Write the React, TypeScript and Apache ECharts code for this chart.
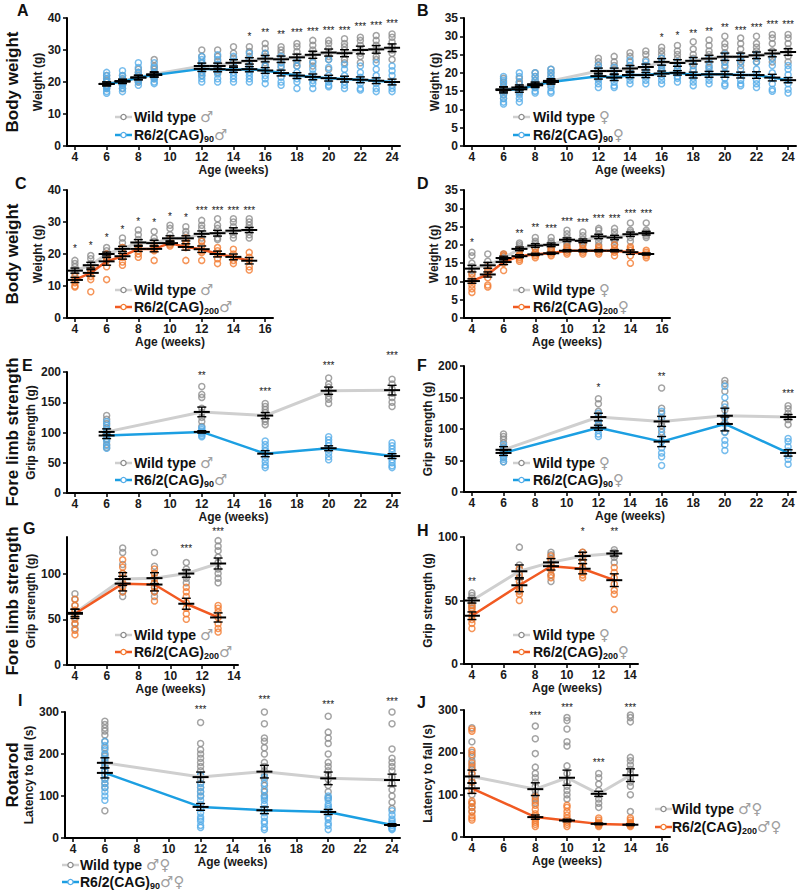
import React, { useEffect, useRef } from 'react';
import * as echarts from 'echarts';

// ---------- tick values ----------
const xTicks24 = [4, 6, 8, 10, 12, 14, 16, 18, 20, 22, 24];
const xTicks16 = [4, 6, 8, 10, 12, 14, 16];
const xTicks14 = [4, 6, 8, 10, 12, 14];
const yTicks40 = [0, 10, 20, 30, 40];
const yTicks35 = [0, 5, 10, 15, 20, 25, 30, 35];
const yTicks200 = [0, 50, 100, 150, 200];
const yTicks100 = [0, 50, 100];
const yTicks300 = [0, 100, 200, 300];

// ---------- Panel A: body weight, male, CAG90 ----------
const weeksA = [6, 7, 8, 9, 12, 13, 14, 15, 16, 17, 18, 19, 20, 21, 22, 23, 24];
const wtPtsA = [
  [22, 21, 20.5, 20, 19, 18.5, 18], [22, 21, 20.5, 20, 19.5, 19, 18], [24, 23, 22, 21.5, 21, 20.5, 20],
  [27, 25, 24, 23, 22, 21.5, 21], [30, 28, 26, 25, 24.5, 24, 23, 22], [30, 28, 26.5, 25.5, 25, 24, 23],
  [31, 29, 27.5, 26.5, 26, 25, 24], [31, 29.5, 28, 27, 26, 25, 24], [32, 30.5, 29, 28, 27, 26, 25],
  [31, 30, 29, 27.5, 27, 26, 25], [32, 31, 29.5, 28, 27, 26, 25], [33, 31.5, 30, 29, 28, 26.5, 25],
  [33, 32, 30.5, 29, 28, 27, 24], [33.5, 32, 31, 30, 29, 27, 26], [34, 33, 31.5, 30, 29, 28, 26],
  [34.5, 33, 31.5, 30.5, 29.5, 28, 27], [35, 34, 32.5, 31, 30, 29, 27],
];
const mutPtsA = [
  [23, 22, 21, 20, 19, 18.5, 18, 17, 16.5], [23.5, 22, 21, 20, 19.5, 19, 18, 17], [26, 24.5, 23, 22, 21, 20, 19],
  [26, 24.5, 23, 22, 21, 20, 19.5], [28, 27, 26, 25, 24, 23, 22, 21, 20], [28.5, 27, 25.5, 24.5, 23.5, 22.5, 21, 20],
  [28, 26.5, 25, 24, 23, 22, 21, 20], [29, 27, 25, 24, 23, 22, 21, 20], [29, 27, 25, 23.5, 22, 21, 19.5],
  [28, 26, 24.5, 23, 21.5, 20, 19], [27, 25, 23, 22, 21, 20, 18], [26, 24, 22.5, 21.5, 20.5, 19.5, 18],
  [27, 24.5, 22, 21, 20, 19, 18.5], [25.5, 24, 22, 21, 20, 19, 18], [25, 23, 21.5, 20.5, 19.5, 18, 17.5],
  [26, 24, 22, 20.5, 19.5, 18, 17], [25, 23.5, 22, 20, 19, 18, 17],
];
const wtMeanA = [19.4, 20.3, 21.4, 22.4, 25.0, 25.0, 26.0, 26.6, 27.3, 27.1, 27.7, 28.5, 29.2, 29.0, 30.0, 30.2, 30.7];
const wtSemA = [0.6, 0.6, 0.7, 0.8, 0.9, 0.9, 1.0, 1.0, 1.0, 1.0, 1.0, 1.1, 1.1, 1.1, 1.2, 1.2, 1.2];
const mutMeanA = [19.4, 20.1, 21.4, 22.2, 24.1, 24.0, 23.8, 24.0, 23.6, 22.8, 22.0, 21.6, 21.2, 20.9, 20.7, 20.4, 20.0];
const mutSemA = [0.6, 0.6, 0.7, 0.7, 0.8, 0.8, 0.8, 0.8, 0.9, 0.9, 0.9, 0.9, 0.9, 0.9, 0.9, 0.9, 0.9];
const starWeeksA = [15, 16, 17, 18, 19, 20, 21, 22, 23, 24];
const starTextA = ['*', '**', '**', '***', '***', '***', '***', '***', '***', '***'];
const starYA = [34.3, 35.4, 34.8, 35.4, 35.9, 36.2, 36.2, 37.2, 37.6, 38.2];

// ---------- Panel B: body weight, female, CAG90 ----------
const weeksB = [6, 7, 8, 9, 12, 13, 14, 15, 16, 17, 18, 19, 20, 21, 22, 23, 24];
const wtPtsB = [
  [18.5, 17.5, 16.5, 15.5, 15, 14, 13], [18.5, 17.5, 17, 16, 15, 14.5], [20, 19, 18, 17, 16.5, 16],
  [21, 20, 19, 18, 17.5, 16.5], [24, 23, 22, 21, 20, 19.5, 18.5], [24.5, 23, 22, 21, 20, 19],
  [25.5, 24.5, 23, 22, 21, 20, 19], [26, 25, 23.5, 22, 21, 20], [27, 26, 25, 24, 23, 22, 21],
  [27.5, 26, 25, 24, 23, 22, 21], [28.5, 26.5, 25, 24, 23, 22, 21], [29, 27.5, 26, 25, 24, 23, 21.5],
  [30, 28, 27, 25.5, 24, 23, 22], [29.5, 28, 26.5, 25, 24, 23, 22], [30, 28, 27, 26, 25, 24, 23],
  [30.5, 29.5, 28, 26, 25, 24, 23], [30.5, 29.5, 28, 26.5, 25.5, 24.5, 23],
];
const mutPtsB = [
  [19, 18, 17, 16, 15, 14, 13, 12, 11.5], [20, 19, 17.5, 16, 15, 14, 13, 12], [20, 19, 18, 17, 16, 15, 14.5],
  [21, 20, 19, 18, 17, 16, 15, 14.5], [22, 21, 20, 19, 18, 17, 16], [21.5, 20.5, 19.5, 18.5, 17.5, 16.5, 16],
  [23.5, 22, 21, 20, 19, 18, 17], [23, 22, 21, 20, 19, 18, 17], [24, 22.5, 21.5, 20.5, 19, 18, 17],
  [23, 22, 21, 20, 19, 18.5, 17.5], [23.5, 22, 20.5, 19.5, 18.5, 17.5, 16.5], [24, 22, 21, 20, 19, 18, 17],
  [25, 23, 21.5, 20, 18.5, 17, 16.5], [24.5, 23, 21, 19.5, 18, 17, 16.5], [25, 23, 21, 19.5, 18, 17, 16],
  [24, 22, 20, 18.5, 17, 15.5, 15], [22, 21, 19.5, 18, 17, 15.5, 14.5],
];
const wtMeanB = [15.5, 16.0, 16.9, 17.8, 20.5, 20.5, 21.2, 21.6, 23.0, 22.7, 23.3, 23.9, 24.4, 24.4, 24.8, 25.3, 25.7];
const wtSemB = [0.7, 0.7, 0.6, 0.6, 0.8, 0.8, 0.8, 0.8, 0.9, 0.9, 0.9, 0.9, 1.0, 1.0, 0.9, 0.9, 0.9];
const mutMeanB = [15.3, 15.5, 16.6, 17.5, 19.1, 18.7, 19.4, 19.4, 19.8, 20.0, 19.4, 19.6, 19.6, 19.4, 19.4, 18.7, 18.0];
const mutSemB = [0.8, 0.8, 0.6, 0.6, 0.8, 0.8, 0.7, 0.7, 0.7, 0.6, 0.8, 0.8, 0.8, 0.8, 0.9, 0.9, 0.7];
const starWeeksB = [16, 17, 18, 19, 20, 21, 22, 23, 24];
const starTextB = ['*', '*', '**', '**', '**', '***', '***', '***', '***'];
const starYB = [29.8, 30.3, 30.7, 31.2, 32.5, 31.6, 32.5, 33.3, 33.3];

// ---------- Panel C: body weight, male, CAG200 ----------
const weeksC = [4, 5, 6, 7, 8, 9, 10, 11, 12, 13, 14, 15];
const wtPtsC = [
  [18, 17, 16, 15, 14], [19.5, 18.5, 17, 16, 15], [22, 21, 20, 19, 18.5], [25, 23.5, 22, 21, 20],
  [27.5, 26, 24.5, 23, 22], [27, 25, 24, 23, 22], [29, 28, 26, 25, 24], [28.5, 27, 26, 25, 23.5],
  [30.5, 29, 28, 26, 25, 24], [31, 29, 28, 26.5, 25, 24.5], [31, 30, 28.5, 27, 26, 25], [31, 30, 29, 28, 27, 26, 25],
];
const mutPtsC = [
  [13, 12, 11, 10, 9.7], [15.5, 14.5, 13, 12, 8.2], [20, 19, 18, 16, 12], [22, 20.5, 19, 17.5, 16.5],
  [23, 22, 21, 20, 19], [23, 22, 21.5, 21, 18], [24.5, 24, 23.5, 23, 22.5], [25, 24, 23, 22, 18],
  [24, 22.5, 21, 20.5, 18], [22, 21, 20, 18.5, 17], [21.5, 20, 19, 18, 17], [20.5, 19, 18, 16, 15],
];
const wtMeanC = [14.8, 16.5, 20.0, 21.6, 23.6, 23.4, 24.9, 24.9, 26.3, 26.5, 27.3, 27.5];
const wtSemC = [0.8, 0.9, 0.6, 0.8, 0.9, 0.9, 0.8, 0.8, 0.9, 0.9, 0.9, 0.8];
const mutMeanC = [11.9, 14.1, 17.7, 19.3, 21.6, 21.6, 23.4, 22.2, 21.5, 20.0, 19.1, 17.9];
const mutSemC = [0.8, 1.0, 1.2, 0.9, 0.8, 0.9, 0.5, 1.0, 1.0, 0.9, 0.9, 1.0];
const starWeeksC = [4, 5, 6, 7, 8, 9, 10, 11, 12, 13, 14, 15];
const starTextC = ['*', '*', '*', '*', '*', '*', '*', '*', '***', '***', '***', '***'];
const starYC = [21.6, 22.6, 25.2, 27.7, 30.3, 30.0, 31.6, 31.3, 33.6, 33.6, 33.6, 33.6];

// ---------- Panel D: body weight, female, CAG200 ----------
const weeksD = [4, 5, 6, 7, 8, 9, 10, 11, 12, 13, 14, 15];
const wtPtsD = [
  [18, 17, 15, 14, 13, 12], [17.5, 15.5, 14.5, 13.5, 13], [17.5, 17, 16.5, 16, 15.5], [20.5, 20, 19.5, 19, 18, 17.5],
  [22, 21, 20.5, 20, 19, 18], [22, 21, 20.5, 20, 19, 18.5], [24, 23, 22, 21, 20.5, 20], [23.5, 22.5, 21.5, 21, 20.5, 20],
  [24.5, 24, 23, 22, 21, 20], [24.5, 23.5, 22.5, 21.5, 21, 20], [26, 24, 23.5, 23, 22, 21], [26, 24, 23.5, 23, 22.5, 22],
];
const mutPtsD = [
  [12, 11, 10, 9, 8, 7], [14, 13, 12, 11, 9, 8.5], [17.5, 17, 16, 15, 13], [18.5, 17.5, 17, 16.5, 16, 15.5],
  [19, 18, 17.5, 17, 16.5], [19, 18.5, 18, 17.5, 17], [19.5, 19, 18.5, 18, 17.5], [20, 19, 18.5, 18, 17.5],
  [19.5, 19, 18.5, 18, 17.5], [20, 19, 18.5, 18, 17], [19.5, 19, 18.5, 17, 15], [18.5, 18, 17.5, 17, 16.5],
];
const wtMeanD = [13.5, 14.4, 16.4, 18.9, 19.8, 20.0, 21.4, 21.1, 22.3, 22.0, 22.9, 23.2];
const wtSemD = [0.9, 0.8, 0.5, 0.5, 0.5, 0.5, 0.5, 0.5, 0.6, 0.6, 0.6, 0.5];
const mutMeanD = [10.1, 11.9, 15.3, 16.9, 17.4, 17.7, 18.4, 18.4, 18.4, 18.4, 18.0, 17.5];
const mutSemD = [0.6, 0.7, 0.7, 0.4, 0.3, 0.3, 0.3, 0.3, 0.3, 0.3, 0.6, 0.3];
const starWeeksD = [4, 7, 8, 9, 10, 11, 12, 13, 14, 15];
const starTextD = ['*', '**', '**', '***', '***', '***', '***', '***', '***', '***'];
const starYD = [20.7, 23.1, 24.7, 24.4, 26.5, 26.0, 27.1, 27.1, 28.7, 28.7];

// ---------- Panel E: fore limb strength, male, CAG90 ----------
const weeksE = [6, 12, 16, 20, 24];
const wtPtsE = [
  [128, 122, 115, 108, 100, 95, 88, 80, 75], [176, 163, 158, 140, 133, 125, 118, 110],
  [148, 143, 138, 133, 128, 122, 118, 113], [190, 180, 175, 170, 165, 160, 155, 148],
  [210, 188, 180, 172, 165, 158, 150, 143],
];
const mutPtsE = [
  [118, 112, 105, 100, 95, 90, 85, 78, 74], [108, 105, 102, 100, 98, 95, 93],
  [86, 80, 75, 70, 65, 58, 52, 46, 42], [93, 88, 83, 78, 72, 66, 60, 55],
  [83, 78, 73, 68, 62, 55, 50, 45, 42],
];
const wtMeanE = [101, 134, 128, 169, 170];
const wtSemE = [5, 8, 5, 6, 8];
const mutMeanE = [95, 101, 65, 74, 61];
const mutSemE = [5, 2, 5, 4, 4];
const starWeeksE = [12, 16, 20, 24];
const starTextE = ['**', '***', '***', '***'];
const starYE = [195, 167, 211, 227];

// ---------- Panel F: fore limb strength, female, CAG90 ----------
const weeksF = [6, 12, 16, 20, 24];
const wtPtsF = [
  [92, 88, 84, 78, 72, 68, 62, 55, 48], [148, 140, 128, 122, 118, 112, 105],
  [165, 133, 125, 115, 110, 105, 95], [177, 172, 160, 140, 130, 118, 110, 95],
  [137, 132, 125, 120, 115, 107],
];
const mutPtsF = [
  [75, 70, 65, 60, 55, 52, 48], [125, 115, 108, 102, 98, 92, 88],
  [128, 118, 100, 90, 80, 70, 62, 56, 42], [168, 150, 135, 120, 108, 95, 82, 75, 66],
  [85, 80, 72, 65, 58, 52, 44],
];
const wtMeanF = [67, 119, 112, 121, 119];
const wtSemF = [5, 6, 8, 12, 4];
const mutMeanF = [62, 102, 80, 108, 62];
const mutSemF = [4, 4, 8, 11, 5];
const starWeeksF = [12, 16, 24];
const starTextF = ['*', '**', '***'];
const starYF = [166, 183, 156];

// ---------- Panel G: fore limb strength, male, CAG200 ----------
const weeksG = [4, 7, 9, 11, 13];
const wtPtsG = [
  [78, 72, 65, 58, 52, 45, 40], [128, 123, 110, 100, 95, 88, 80, 75], [123, 108, 100, 95, 90, 85, 80, 75],
  [112, 105, 102, 98, 95, 90], [136, 130, 125, 118, 112, 105, 100, 95, 90],
];
const mutPtsG = [
  [72, 65, 60, 55, 50, 45, 38, 33], [115, 107, 100, 95, 90, 85, 80], [105, 100, 95, 90, 85, 80, 70],
  [85, 80, 75, 68, 62, 56, 50], [65, 62, 58, 52, 45, 40, 36],
];
const wtMeanG = [57, 94, 95, 100, 111];
const wtSemG = [4, 7, 6, 4, 6];
const mutMeanG = [56, 89, 88, 67, 52];
const mutSemG = [5, 8, 7, 6, 5];
const starWeeksG = [11, 13];
const starTextG = ['***', '***'];
const starYG = [127, 146];

// ---------- Panel H: fore limb strength, female, CAG200 ----------
const weeksH = [4, 7, 9, 11, 13];
const wtPtsH = [
  [56, 54, 52, 50, 48, 46, 44], [92, 78, 75, 72, 68, 62, 58], [88, 86, 83, 78, 75, 70, 65],
  [88, 86, 84, 82, 80, 75], [90, 88, 86, 84, 80],
];
const mutPtsH = [
  [46, 44, 42, 38, 35, 32, 28], [75, 70, 65, 60, 57, 55, 50], [85, 82, 78, 76, 74, 70, 68],
  [88, 84, 80, 76, 72, 70, 68], [76, 72, 68, 63, 58, 55, 43],
];
const wtMeanH = [50, 73, 80, 85, 87];
const wtSemH = [2, 5, 3, 3, 2];
const mutMeanH = [38, 62, 77, 75, 66];
const mutSemH = [3, 5, 3, 4, 5];
const starWeeksH = [4, 11, 13];
const starTextH = ['**', '*', '**'];
const starYH = [65, 104, 104];

// ---------- Panel I: rotarod, CAG90 ----------
const weeksI = [6, 12, 16, 20, 24];
const wtPtsI = [
  [278, 270, 262, 255, 245, 230, 215, 200, 195, 185, 175, 170, 160, 150, 140, 130, 120, 65],
  [275, 225, 210, 200, 190, 180, 170, 160, 150, 140, 130, 120, 110, 100],
  [300, 272, 238, 230, 215, 200, 180, 170, 160, 150, 140, 125, 110, 100],
  [290, 252, 238, 225, 200, 180, 170, 160, 150, 140, 125, 110, 95],
  [300, 272, 212, 190, 180, 170, 160, 145, 130, 115, 100, 85, 70],
];
const mutPtsI = [
  [230, 220, 210, 200, 190, 180, 170, 160, 150, 140, 130, 120, 110, 100, 90],
  [150, 130, 120, 110, 100, 90, 80, 70, 60, 50, 45, 40, 30, 25],
  [145, 130, 115, 100, 95, 90, 80, 70, 60, 50, 40, 35, 25, 20],
  [100, 95, 90, 80, 75, 70, 60, 50, 45, 35, 30, 20],
  [65, 55, 45, 40, 35, 30, 25, 22, 20],
];
const wtMeanI = [179, 145, 158, 142, 138];
const wtSemI = [12, 12, 15, 15, 14];
const mutMeanI = [155, 74, 66, 62, 31];
const mutSemI = [12, 8, 8, 6, 3];
const starWeeksI = [12, 16, 20, 24];
const starTextI = ['***', '***', '***', '***'];
const starYI = [305, 329, 317, 326];

// ---------- Panel J: rotarod, CAG200 ----------
const weeksJ = [4, 8, 10, 12, 14];
const wtPtsJ = [
  [258, 225, 200, 190, 180, 170, 160, 150, 140, 130, 120, 100, 80, 70, 60],
  [262, 232, 197, 165, 150, 140, 130, 120, 110, 100, 90, 80],
  [282, 275, 255, 225, 215, 168, 150, 130, 120, 110, 100, 90],
  [150, 140, 125, 110, 100, 90, 80, 70],
  [288, 282, 272, 188, 180, 170, 160, 150, 140, 130, 120, 100, 60],
];
const mutPtsJ = [
  [255, 250, 205, 195, 175, 165, 150, 130, 110, 85, 80, 70, 60, 50, 45, 40],
  [95, 85, 75, 65, 55, 50, 45, 40, 35, 30, 25],
  [75, 70, 60, 52, 45, 40, 35, 30, 25],
  [45, 40, 35, 32, 30, 28, 25],
  [45, 40, 35, 32, 30, 28, 25],
];
const wtMeanJ = [143, 113, 140, 102, 146];
const wtSemJ = [15, 15, 18, 6, 15];
const mutMeanJ = [115, 47, 39, 31, 29];
const mutSemJ = [12, 5, 3, 2, 2];
const starWeeksJ = [8, 10, 12, 14];
const starTextJ = ['***', '***', '***', '***'];
const starYJ = [286, 306, 175, 306];

// ---------- styling ----------
const FONT = '"Liberation Sans", Arial, Helvetica, sans-serif';
const SYM_FONT = '"DejaVu Sans", "Noto Sans", sans-serif';
const WT_LINE = '#cfcfcf';
const WT_PT = '#8c8c8c';
const BLUE_LINE = '#1c9fe2';
const BLUE_PT = '#55ade9';
const ORANGE_LINE = '#f15a22';
const ORANGE_PT = '#f37a30';

type Panel = {
  weeks: number[]; wp: number[][]; mp: number[][];
  wm: number[]; ws: number[]; mm: number[]; ms: number[];
  sw: number[]; st: string[]; sy: number[];
  orange: boolean;
  grid: [number, number, number, number];
  xr: [number, number]; xt: number[];
  yr: [number, number]; yt: number[];
  yname: string; ygap: number; xnamePad: number;
};

const panels: Panel[] = [
  { weeks: weeksA, wp: wtPtsA, mp: mutPtsA, wm: wtMeanA, ws: wtSemA, mm: mutMeanA, ms: mutSemA, sw: starWeeksA, st: starTextA, sy: starYA, orange: false,
    grid: [67, 18, 333, 128], xr: [3.5, 24.5], xt: xTicks24, yr: [0, 40], yt: yTicks40, yname: 'Weight (g)', ygap: 23, xnamePad: 0 },
  { weeks: weeksB, wp: wtPtsB, mp: mutPtsB, wm: wtMeanB, ws: wtSemB, mm: mutMeanB, ms: mutSemB, sw: starWeeksB, st: starTextB, sy: starYB, orange: false,
    grid: [464, 18, 332, 128], xr: [3.5, 24.5], xt: xTicks24, yr: [0, 35], yt: yTicks35, yname: 'Weight (g)', ygap: 21, xnamePad: 0 },
  { weeks: weeksC, wp: wtPtsC, mp: mutPtsC, wm: wtMeanC, ws: wtSemC, mm: mutMeanC, ms: mutSemC, sw: starWeeksC, st: starTextC, sy: starYC, orange: true,
    grid: [67, 190, 206, 128], xr: [3.5, 16.5], xt: xTicks16, yr: [0, 40], yt: yTicks40, yname: 'Weight (g)', ygap: 23, xnamePad: 0 },
  { weeks: weeksD, wp: wtPtsD, mp: mutPtsD, wm: wtMeanD, ws: wtSemD, mm: mutMeanD, ms: mutSemD, sw: starWeeksD, st: starTextD, sy: starYD, orange: true,
    grid: [464, 190, 206, 128], xr: [3.5, 16.5], xt: xTicks16, yr: [0, 35], yt: yTicks35, yname: 'Weight (g)', ygap: 24, xnamePad: 0 },
  { weeks: weeksE, wp: wtPtsE, mp: mutPtsE, wm: wtMeanE, ws: wtSemE, mm: mutMeanE, ms: mutSemE, sw: starWeeksE, st: starTextE, sy: starYE, orange: false,
    grid: [67, 372, 333, 121], xr: [3.5, 24.5], xt: xTicks24, yr: [0, 200], yt: yTicks200, yname: 'Grip strength (g)', ygap: 27, xnamePad: 0 },
  { weeks: weeksF, wp: wtPtsF, mp: mutPtsF, wm: wtMeanF, ws: wtSemF, mm: mutMeanF, ms: mutSemF, sw: starWeeksF, st: starTextF, sy: starYF, orange: false,
    grid: [464, 366, 332, 126], xr: [3.5, 24.5], xt: xTicks24, yr: [0, 200], yt: yTicks200, yname: 'Grip strength (g)', ygap: 24, xnamePad: 0 },
  { weeks: weeksG, wp: wtPtsG, mp: mutPtsG, wm: wtMeanG, ws: wtSemG, mm: mutMeanG, ms: mutSemG, sw: starWeeksG, st: starTextG, sy: starYG, orange: true,
    grid: [67, 537, 171, 128], xr: [3.5, 14.25], xt: xTicks14, yr: [0, 140], yt: yTicks100, yname: 'Grip strength (g)', ygap: 27, xnamePad: 36 },
  { weeks: weeksH, wp: wtPtsH, mp: mutPtsH, wm: wtMeanH, ws: wtSemH, mm: mutMeanH, ms: mutSemH, sw: starWeeksH, st: starTextH, sy: starYH, orange: true,
    grid: [464, 537, 174, 127], xr: [3.5, 14.5], xt: xTicks14, yr: [0, 100], yt: yTicks100, yname: 'Grip strength (g)', ygap: 24, xnamePad: 32 },
  { weeks: weeksI, wp: wtPtsI, mp: mutPtsI, wm: wtMeanI, ws: wtSemI, mm: mutMeanI, ms: mutSemI, sw: starWeeksI, st: starTextI, sy: starYI, orange: false,
    grid: [65, 712, 335, 126], xr: [3.5, 24.5], xt: xTicks24, yr: [0, 300], yt: yTicks300, yname: 'Latency to fall (s)', ygap: 25, xnamePad: 0 },
  { weeks: weeksJ, wp: wtPtsJ, mp: mutPtsJ, wm: wtMeanJ, ws: wtSemJ, mm: mutMeanJ, ms: mutSemJ, sw: starWeeksJ, st: starTextJ, sy: starYJ, orange: true,
    grid: [464, 710, 206, 127], xr: [3.5, 16.5], xt: xTicks16, yr: [0, 300], yt: yTicks300, yname: 'Latency to fall (s)', ygap: 24, xnamePad: 0 },
];

// legend / label layout
const letters: [string, number, number][] = [
  ['A', 17, 2], ['B', 417, 2], ['C', 15, 175], ['D', 417, 175], ['E', 22, 357],
  ['F', 417, 357], ['G', 23, 520], ['H', 417, 522], ['I', 18, 692], ['J', 417, 694],
];
const rowLabels: [string, number][] = [
  ['Body weight', 82], ['Body weight', 254], ['Fore limb strength', 432], ['Fore limb strength', 601], ['Rotarod', 775],
];
const legends: { lx: number; tx: number; y1: number; y2: number; sym: string; sub: string; orange: boolean }[] = [
  { lx: 115, tx: 134, y1: 117, y2: 135, sym: '♂', sub: '90', orange: false },
  { lx: 513, tx: 533, y1: 117, y2: 135, sym: '♀', sub: '90', orange: false },
  { lx: 115, tx: 134, y1: 290, y2: 307, sym: '♂', sub: '200', orange: true },
  { lx: 513, tx: 533, y1: 290, y2: 307, sym: '♀', sub: '200', orange: true },
  { lx: 115, tx: 134, y1: 463, y2: 480, sym: '♂', sub: '90', orange: false },
  { lx: 513, tx: 533, y1: 463, y2: 480, sym: '♀', sub: '90', orange: false },
  { lx: 115, tx: 134, y1: 635, y2: 652, sym: '♂', sub: '200', orange: true },
  { lx: 513, tx: 533, y1: 635, y2: 652, sym: '♀', sub: '200', orange: true },
  { lx: 62, tx: 80, y1: 865, y2: 882, sym: '♂♀', sub: '90', orange: false },
  { lx: 655, tx: 672, y1: 809, y2: 827, sym: '♂♀', sub: '200', orange: true },
];

function flatten(weeks: number[], pts: number[][]) {
  const out: number[][] = [];
  weeks.forEach((w, i) => pts[i].forEach((v) => out.push([w, v])));
  return out;
}

function errRender(params: any, api: any) {
  const x = api.value(0), m = api.value(1), s = api.value(2);
  const c = api.coord([x, m]);
  const t = api.coord([x, m + s]);
  const b = api.coord([x, m - s]);
  const st = { stroke: '#000', lineWidth: 1.4 };
  return {
    type: 'group',
    children: [
      { type: 'line', shape: { x1: c[0], y1: t[1], x2: c[0], y2: b[1] }, style: st },
      { type: 'line', shape: { x1: c[0] - 4.5, y1: t[1], x2: c[0] + 4.5, y2: t[1] }, style: st },
      { type: 'line', shape: { x1: c[0] - 4.5, y1: b[1], x2: c[0] + 4.5, y2: b[1] }, style: st },
      { type: 'line', shape: { x1: c[0] - 8, y1: c[1], x2: c[0] + 8, y2: c[1] }, style: { stroke: '#000', lineWidth: 2 } },
    ],
  };
}

function makeStarRender(texts: string[]) {
  return (params: any, api: any) => {
    const c = api.coord([api.value(0), api.value(1)]);
    return {
      type: 'text', x: c[0], y: c[1],
      style: { text: texts[params.dataIndex], fill: '#1a1a1a', fontFamily: FONT, fontSize: 10, align: 'center', verticalAlign: 'middle' },
    };
  };
}

function buildOption() {
  const grid: any[] = [], xAxis: any[] = [], yAxis: any[] = [], series: any[] = [];
  panels.forEach((p, i) => {
    grid.push({ left: p.grid[0], top: p.grid[1], width: p.grid[2], height: p.grid[3] });
    xAxis.push({
      type: 'value', gridIndex: i, min: p.xr[0], max: p.xr[1],
      name: 'Age (weeks)', nameLocation: 'middle', nameGap: 18,
      nameTextStyle: { fontFamily: FONT, fontWeight: 'bold', fontSize: 12, color: '#1a1a1a', padding: [0, 0, 0, p.xnamePad] },
      axisLine: { show: true, onZero: false, lineStyle: { color: '#000', width: 2 } },
      axisTick: { show: true, length: 4, lineStyle: { color: '#000', width: 1.5 }, customValues: p.xt },
      axisLabel: { customValues: p.xt, fontFamily: FONT, fontWeight: 'bold', fontSize: 12, color: '#1a1a1a', margin: 5 },
      splitLine: { show: false },
    });
    yAxis.push({
      type: 'value', gridIndex: i, min: p.yr[0], max: p.yr[1],
      name: p.yname, nameLocation: 'middle', nameGap: p.ygap, nameRotate: 90,
      nameTextStyle: { fontFamily: FONT, fontWeight: 'bold', fontSize: 12, color: '#1a1a1a' },
      axisLine: { show: true, lineStyle: { color: '#000', width: 2 } },
      axisTick: { show: true, length: 4, lineStyle: { color: '#000', width: 1.5 }, customValues: p.yt },
      axisLabel: { customValues: p.yt, fontFamily: FONT, fontWeight: 'bold', fontSize: 12, color: '#1a1a1a', margin: 6 },
      splitLine: { show: false },
    });
    const mutLine = p.orange ? ORANGE_LINE : BLUE_LINE;
    const mutPt = p.orange ? ORANGE_PT : BLUE_PT;
    const common = { xAxisIndex: i, yAxisIndex: i, silent: true };
    series.push({
      ...common, type: 'scatter', name: 'wt' + i, symbol: 'circle', symbolSize: 6, z: 2,
      itemStyle: { color: 'rgba(255,255,255,0)', borderColor: WT_PT, borderWidth: 1.5 },
      data: flatten(p.weeks, p.wp),
    });
    series.push({
      ...common, type: 'scatter', name: 'mut' + i, symbol: 'circle', symbolSize: 6, z: 2,
      itemStyle: { color: 'rgba(255,255,255,0)', borderColor: mutPt, borderWidth: 1.5 },
      data: flatten(p.weeks, p.mp),
    });
    series.push({
      ...common, type: 'line', symbol: 'none', z: 3,
      lineStyle: { color: WT_LINE, width: 3 },
      data: p.weeks.map((w, j) => [w, p.wm[j]]),
    });
    series.push({
      ...common, type: 'line', symbol: 'none', z: 3,
      lineStyle: { color: mutLine, width: 2.5 },
      data: p.weeks.map((w, j) => [w, p.mm[j]]),
    });
    series.push({
      ...common, type: 'custom', z: 4, renderItem: errRender, encode: { x: 0, y: 1 },
      data: p.weeks.map((w, j) => [w, p.wm[j], p.ws[j]]),
    });
    series.push({
      ...common, type: 'custom', z: 4, renderItem: errRender, encode: { x: 0, y: 1 },
      data: p.weeks.map((w, j) => [w, p.mm[j], p.ms[j]]),
    });
    series.push({
      ...common, type: 'custom', z: 5, clip: false, renderItem: makeStarRender(p.st), encode: { x: 0, y: 1 },
      data: p.sw.map((w, j) => [w, p.sy[j]]),
    });
  });

  const graphic: any[] = [];
  letters.forEach(([t, x, y]) => {
    graphic.push({ type: 'text', x, y, silent: true,
      style: { text: t, fontFamily: FONT, fontWeight: 'bold', fontSize: 16, fill: '#111', align: 'left', verticalAlign: 'top' } });
  });
  rowLabels.forEach(([t, y]) => {
    graphic.push({ type: 'text', x: 12, y, rotation: Math.PI / 2, silent: true,
      style: { text: t, fontFamily: FONT, fontWeight: 'bold', fontSize: 17, fill: '#111', align: 'center', verticalAlign: 'middle' } });
  });
  legends.forEach((L) => {
    const mutLine = L.orange ? ORANGE_LINE : BLUE_LINE;
    const mutPt = L.orange ? ORANGE_PT : BLUE_PT;
    const cx = L.lx + 8.5;
    graphic.push({ type: 'line', silent: true, shape: { x1: L.lx, y1: L.y1, x2: L.lx + 17, y2: L.y1 }, style: { stroke: WT_LINE, lineWidth: 2.5 } });
    graphic.push({ type: 'circle', silent: true, shape: { cx, cy: L.y1, r: 2.6 }, style: { fill: '#fff', stroke: WT_PT, lineWidth: 1.3 } });
    graphic.push({ type: 'line', silent: true, shape: { x1: L.lx, y1: L.y2, x2: L.lx + 17, y2: L.y2 }, style: { stroke: mutLine, lineWidth: 2.5 } });
    graphic.push({ type: 'circle', silent: true, shape: { cx, cy: L.y2, r: 2.6 }, style: { fill: '#fff', stroke: mutPt, lineWidth: 1.3 } });
    const rich = {
      a: { fontFamily: FONT, fontWeight: 'bold', fontSize: 14, fill: '#111', lineHeight: 16 },
      b: { fontFamily: FONT, fontWeight: 'bold', fontSize: 9, fill: '#111', lineHeight: 10, verticalAlign: 'bottom' },
      s: { fontFamily: SYM_FONT, fontSize: 15, fill: '#a0a0a0', lineHeight: 16 },
    };
    graphic.push({ type: 'text', silent: true, x: L.tx, y: L.y1,
      style: { text: '{a|Wild type }{s|' + L.sym + '}', rich, align: 'left', verticalAlign: 'middle' } });
    graphic.push({ type: 'text', silent: true, x: L.tx, y: L.y2,
      style: { text: '{a|R6/2(CAG)}{b|' + L.sub + '}{s|' + L.sym + '}', rich, align: 'left', verticalAlign: 'middle' } });
  });

  return { animation: false, backgroundColor: '#fff', grid, xAxis, yAxis, series, graphic };
}

export default function App() {
  const ref = useRef<HTMLDivElement>(null);
  useEffect(() => {
    if (!ref.current) return;
    const chart = echarts.init(ref.current, undefined, { renderer: 'svg' });
    chart.setOption(buildOption() as any);
    return () => chart.dispose();
  }, []);
  return <div ref={ref} style={{ position: 'fixed', left: 0, top: 0, width: 800, height: 894, background: '#fff' }} />;
}
